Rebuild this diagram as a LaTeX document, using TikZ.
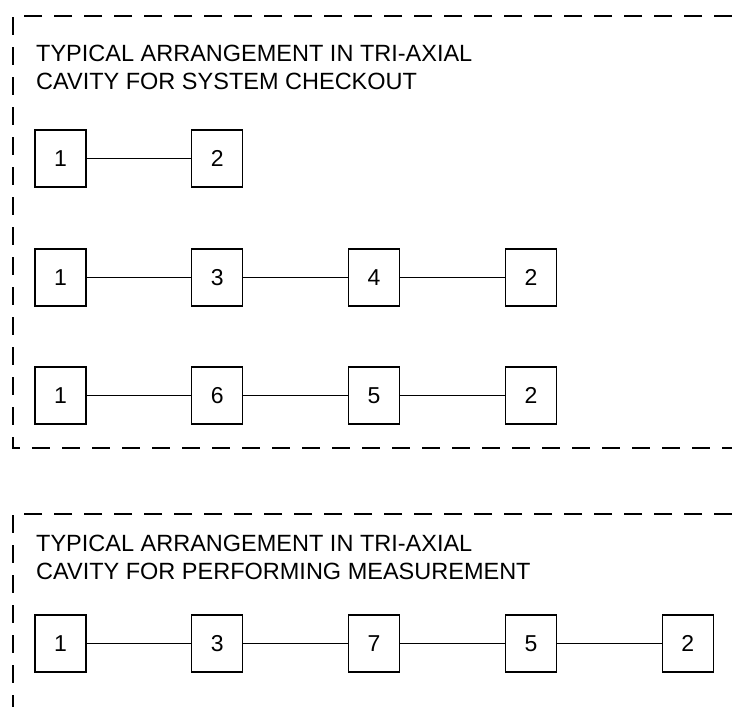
\documentclass[tikz,border=0pt]{standalone}
\usepackage{fontspec}
\setmainfont{Liberation Sans}
\usetikzlibrary{positioning}

\begin{document}
\begin{tikzpicture}[x=1pt, y=-1pt,
  unit/.style={draw, line width=1.3pt, minimum width=51pt, minimum height=57pt, inner sep=0pt, font=\fontsize{23}{26}\selectfont},
  link/.style={line width=1.1pt},
  frame/.style={line width=1.4pt, dash pattern=on 18pt off 12pt},
  caption/.style={anchor=north west, align=left, inner sep=0pt, font=\fontsize{23.5}{28}\selectfont}
]
\useasboundingbox (0,0) rectangle (732,707);
% dashed frames
\draw[frame] (732,16) -- (13,16) -- (13,448) -- (732,448);
\draw[frame] (732,514) -- (13,514) -- (13,707);
\node[caption] (t1) at (36,45) {TYPICAL ARRANGEMENT IN TRI-AXIAL\\CAVITY FOR SYSTEM CHECKOUT};
\node[caption] (t2) at (36,535) {TYPICAL ARRANGEMENT IN TRI-AXIAL\\CAVITY FOR PERFORMING MEASUREMENT};
% system checkout
\node[unit] (ra1) at (60.5,158.5) {1};
\node[unit, right=104.5pt of ra1] (ra2) {2};
\node[unit] (rb1) at (60.5,277.5) {1};
\node[unit, right=104.5pt of rb1] (rb2) {3};
\node[unit, right=104.5pt of rb2] (rb3) {4};
\node[unit, right=104.5pt of rb3] (rb4) {2};
\node[unit] (rc1) at (60.5,395.5) {1};
\node[unit, right=104.5pt of rc1] (rc2) {6};
\node[unit, right=104.5pt of rc2] (rc3) {5};
\node[unit, right=104.5pt of rc3] (rc4) {2};
% performing measurement
\node[unit] (rd1) at (60.5,643.5) {1};
\node[unit, right=104.5pt of rd1] (rd2) {3};
\node[unit, right=104.5pt of rd2] (rd3) {7};
\node[unit, right=104.5pt of rd3] (rd4) {5};
\node[unit, right=104.5pt of rd4] (rd5) {2};
\foreach \a/\b in {ra1/ra2,rb1/rb2,rb2/rb3,rb3/rb4,rc1/rc2,rc2/rc3,rc3/rc4,rd1/rd2,rd2/rd3,rd3/rd4,rd4/rd5}
  \draw[link] (\a) -- (\b);
\end{tikzpicture}
\end{document}
